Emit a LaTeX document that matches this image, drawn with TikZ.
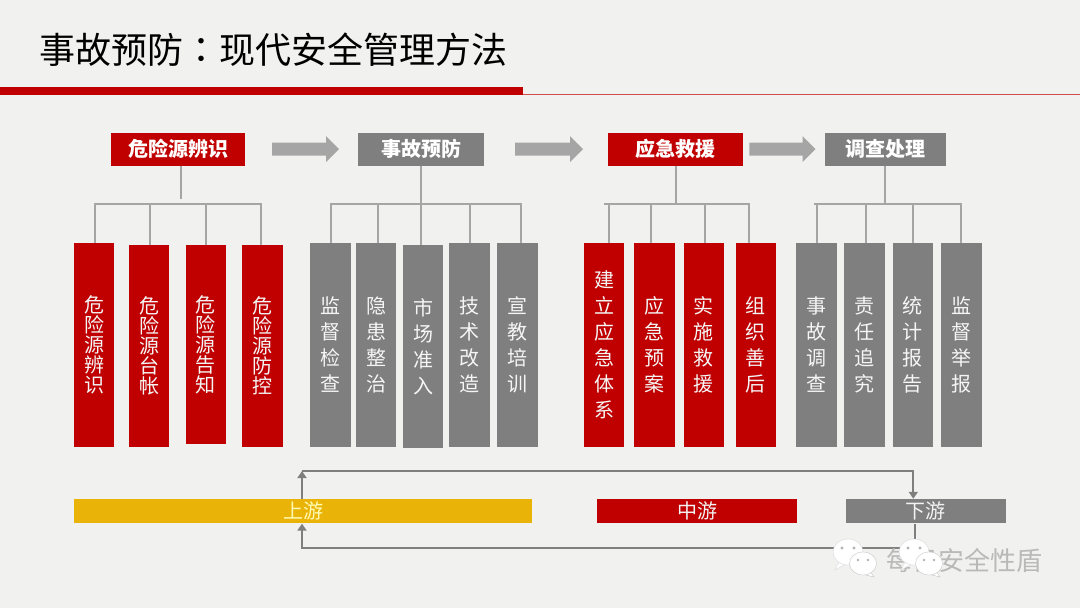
\documentclass[tikz,border=0pt]{standalone}
\usepackage{fontspec}
\setmainfont{Noto Sans CJK SC}
\newfontfamily\colonfont{Noto Sans CJK TC}
\usetikzlibrary{arrows.meta}
\definecolor{redbox}{RGB}{192,0,0}
\definecolor{graybox}{RGB}{127,127,127}
\definecolor{linegray}{RGB}{165,165,165}
\definecolor{yellowbar}{RGB}{234,179,8}
\definecolor{papercol}{RGB}{241,241,240}
\tikzset{
    x=1pt, y=-1pt,
    headbox/.style={minimum height=33pt, inner sep=0pt, text=white, font=\fontsize{20}{20}\selectfont\bfseries},
    colbox/.style={minimum width=40.5pt, inner sep=0pt, text=white!92!gray, align=center, font=\fontsize{20}{26}\selectfont},
    tightcol/.style={font=\fontsize{20}{20}\selectfont},
    barbox/.style={minimum height=24.5pt, inner sep=0pt, text=white!90!gray, font=\fontsize{20}{20}\selectfont},
    treeline/.style={draw=linegray, line width=2pt},
    flowline/.style={draw=graybox, line width=2pt},
    flowhead/.style={flowline, -{Triangle[length=7pt,width=9pt]}},
    bigarrow/.style={fill=linegray, draw=none}
}
\newcommand{\colnode}[7][]{\node[colbox, #1, fill=#3, minimum height=#6 pt - #5 pt] (#2) at (#4,#5/2+#6/2) {#7};}
\begin{document}
\begin{tikzpicture}
    \useasboundingbox (0,0) rectangle (1080,608);
    % paper background
    \fill[papercol] (0,0) rectangle (1080,608);

    % title and rule
    \node[anchor=west, inner sep=0pt, font=\fontsize{36}{36}\selectfont] (title) at (39.5,50) {事故预防{\colonfont ：}现代安全管理方法};
    \fill[redbox] (0,87.3) rectangle (523,95.3);
    \draw[redbox!70, line width=1pt] (523,94) -- (1080,94);

    % header boxes
    \node[headbox, fill=redbox, minimum width=134.5pt] (hazard) at (178.2,149) {危险源辨识};
    \node[headbox, fill=graybox, minimum width=125.5pt] (prevent) at (421.2,149) {事故预防};
    \node[headbox, fill=redbox, minimum width=135pt] (rescue) at (675.5,149) {应急救援};
    \node[headbox, fill=graybox, minimum width=120.5pt] (handle) at (885.3,149) {调查处理};

    % block arrows between headers
    \foreach \ax/\bx in {272/339, 515/583, 749.4/815.5}
        \fill[bigarrow] (\ax,142.7) -- (\bx-13,142.7) -- (\bx-13,136) -- (\bx,149.2) -- (\bx-13,162) -- (\bx-13,155.7) -- (\ax,155.7) -- cycle;

    % column boxes, first group
    \colnode[tightcol]{aa}{redbox}{94.2}{243}{446.7}{危\\险\\源\\辨\\识}
    \colnode[tightcol]{ab}{redbox}{149.2}{245}{446.7}{危\\险\\源\\台\\帐}
    \colnode[tightcol]{ac}{redbox}{205.8}{245}{444}{危\\险\\源\\告\\知}
    \colnode[tightcol]{ad}{redbox}{262.3}{245}{446.7}{危\\险\\源\\防\\控}

    % second group
    \colnode{ba}{graybox}{330.7}{243}{446.7}{监\\督\\检\\查}
    \colnode{bb}{graybox}{376}{243}{446.7}{隐\\患\\整\\治}
    \colnode{bc}{graybox}{423}{245}{447.7}{市\\场\\准\\入}
    \colnode{bd}{graybox}{469.5}{243}{446.7}{技\\术\\改\\造}
    \colnode{be}{graybox}{517.7}{243}{446.7}{宣\\教\\培\\训}

    % third group
    \colnode{ca}{redbox}{604}{243}{446.7}{建\\立\\应\\急\\体\\系}
    \colnode{cb}{redbox}{654.7}{243}{446.7}{应\\急\\预\\案}
    \colnode{cc}{redbox}{703.8}{243}{446.7}{实\\施\\救\\援}
    \colnode{cd}{redbox}{755.8}{243}{446.7}{组\\织\\善\\后}

    % fourth group
    \colnode{da}{graybox}{816.7}{243}{446.7}{事\\故\\调\\查}
    \colnode{db}{graybox}{864.7}{243}{446.7}{责\\任\\追\\究}
    \colnode{dc}{graybox}{912.8}{243}{446.7}{统\\计\\报\\告}
    \colnode{dd}{graybox}{961.3}{243}{446.7}{监\\督\\举\\报}

    % trees
    \draw[treeline] (181,0 |- hazard.south) -- (181,198.5);
    \draw[treeline] (94.4,204) -- (262.4,204);
    \draw[treeline] (prevent.south) -- (prevent.south |- bc.north);
    \draw[treeline] (330,204) -- (521.7,204);
    \draw[treeline] (rescue.south) -- (rescue.south |- 0,204);
    \draw[treeline] (604.4,204) -- (750.4,204);
    \draw[treeline] (handle.south) -- (handle.south |- 0,204);
    \draw[treeline] (813.8,204) -- (961.8,204);
    \foreach \boxname/\dropx in {aa/95.4, ab/149.8, ac/206, ad/261.4,
        ba/331, bb/378, bd/470, be/520.7,
        ca/608.5, cb/651, cc/705, cd/749.4,
        da/817, db/865.8, dc/913.3, dd/960.8}
        \draw[treeline] (\dropx,204) -- (\dropx,204 |- \boxname.north);

    % stream bars
    \node[barbox, fill=yellowbar, text=yellow!30!white, minimum width=458pt] (upper) at (303,511.2) {上游};
    \node[barbox, fill=redbox, minimum width=200.5pt] (middle) at (697,511.2) {中游};
    \node[barbox, fill=graybox, minimum width=160pt] (lower) at (925.7,511.2) {下游};

    % stream feedback lines
    \coordinate (topleft) at (302,471);
    \coordinate (topright) at (913.3,471);
    \coordinate (botleft) at (302,548);
    \coordinate (botright) at (915,548);
    \draw[flowhead] (topleft |- upper.north) -- (topleft);
    \draw[flowhead] (topleft) -- (topright) -- (topright |- lower.north);
    \draw[flowhead] (botright |- lower.south) -- (botright) -- (botleft) -- (botleft |- upper.south);

    % account mark
    \node[inner sep=0pt, text=gray!55, font=\fontsize{26}{26}\selectfont] (mark) at (964.5,561) {每日安全性盾};
    \foreach \cx in {848, 914} {
        \fill[white, draw=gray!30] (\cx-9,562) -- (\cx-13,570) -- (\cx-2,564) -- cycle;
        \fill[white, draw=gray!30] (\cx,552) ellipse (15 and 13);
        \fill[gray!60] (\cx-6,548) circle (1.7) (\cx+6,548) circle (1.7);
        \fill[white, draw=gray!45] (\cx+21,570) -- (\cx+26,577) -- (\cx+14,574) -- cycle;
        \fill[white, draw=gray!45] (\cx+15,563.5) ellipse (13.5 and 11.5);
        \fill[gray!60] (\cx+10,560) circle (1.4) (\cx+20,560) circle (1.4);
    }
\end{tikzpicture}
\end{document}
